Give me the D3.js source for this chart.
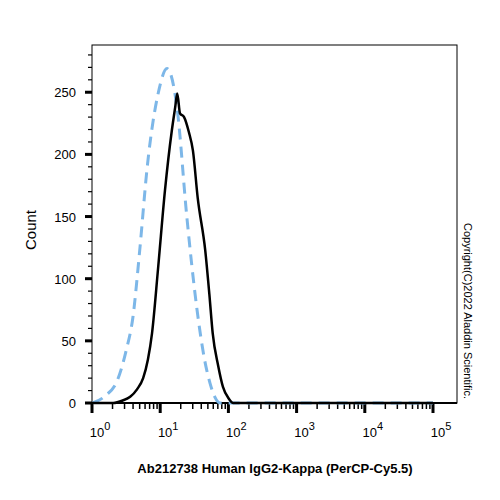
<!DOCTYPE html><html><head><meta charset="utf-8"><script src="https://cdn.jsdelivr.net/npm/d3@7"></script>
<style>body{margin:0;background:#fff}</style></head><body><svg id="c" width="500" height="500"></svg>
<script>
const sampleLog=[0.0,0.31,0.45,0.56,0.66,0.75,0.82,0.88,0.97,1.07,1.17,1.22,1.25,1.29,1.35,1.42,1.48,1.55,1.66,1.72,1.77,1.85,1.92,2.0,2.07,2.5,3,3.5,4,4.5,5];
const sampleCount=[0,0,2,5,11,20,35,56,109,171,219,238,249,233,230,218,203,165,123,88,56,30,13,4,0,0,0,0,0,0,0];
const isoLog=[0.01,0.2,0.37,0.50,0.60,0.70,0.81,0.97,1.10,1.25,1.39,1.54,1.65,1.73,1.80,1.88,2.3,3,3.5,4,4.5,5];
const isoCount=[0,6,18,42,69,123,190,249,269,236,150,75,35,16,5,0,0,0,0,0,0,0];
const decades=[0,1,2,3,4,5];
const yTicks=[0,50,100,150,200,250];
const svg=d3.select("#c");
const x=d3.scaleLinear().domain([0,5]).range([92,433]);
const y=d3.scaleLinear().domain([0,288]).range([403,45]);
const F="Liberation Sans, Arial, sans-serif";
svg.append("rect").attr("x",92).attr("y",45).attr("width",365).attr("height",358).attr("fill","none").attr("stroke","#000").attr("stroke-width",1);
for(let v=0;v<=280;v+=10){const maj=v%50===0;svg.append("line").attr("x1",92-(maj?7:4)).attr("x2",92).attr("y1",y(v)).attr("y2",y(v)).attr("stroke","#000").attr("stroke-width",maj?3:1.2);}
yTicks.forEach(v=>svg.append("text").attr("x",76).attr("y",y(v)+5).attr("text-anchor","end").attr("font-family",F).attr("font-size",13).text(v));
svg.append("line").attr("x1",92).attr("x2",457).attr("y1",403).attr("y2",403).attr("stroke","#000").attr("stroke-width",2);
decades.forEach(d=>{svg.append("line").attr("x1",x(d)).attr("x2",x(d)).attr("y1",403).attr("y2",413).attr("stroke","#000").attr("stroke-width",3);
 if(d<5)for(let k=2;k<10;k++){const xx=x(d+Math.log10(k));svg.append("line").attr("x1",xx).attr("x2",xx).attr("y1",403).attr("y2",409).attr("stroke","#000").attr("stroke-width",1.5);}
 const t=svg.append("text").attr("x",x(d)+8).attr("y",437).attr("text-anchor","middle").attr("font-family",F).attr("font-size",13);
 t.append("tspan").text("10");t.append("tspan").attr("dy",-7).attr("font-size",11).text(d);});
const line=d3.line().x(d=>x(d[0])).y(d=>y(d[1])).curve(d3.curveMonotoneX);
svg.append("path").attr("d",line(isoLog.map((v,i)=>[v,isoCount[i]]))).attr("fill","none").attr("stroke","#7db7e8").attr("stroke-width",3).attr("stroke-dasharray","11,7");
svg.append("path").attr("d",line(sampleLog.map((v,i)=>[v,sampleCount[i]]))).attr("fill","none").attr("stroke","#000").attr("stroke-width",2.5);
svg.append("text").attr("transform","translate(36,230) rotate(-90)").attr("text-anchor","middle").attr("font-family",F).attr("font-size",15).text("Count");
svg.append("text").attr("x",275).attr("y",473).attr("text-anchor","middle").attr("font-family",F).attr("font-size",13).attr("font-weight","bold").text("Ab212738 Human IgG2-Kappa (PerCP-Cy5.5)");
svg.append("text").attr("transform","translate(464,311) rotate(90)").attr("text-anchor","middle").attr("font-family",F).attr("font-size",11).text("Copyright(C)2022 Aladdin Scientific.");
</script></body></html>
